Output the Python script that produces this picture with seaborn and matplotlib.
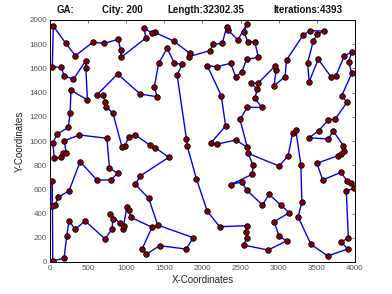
import matplotlib
matplotlib.use("Agg")
import matplotlib.pyplot as plt
import seaborn as sns
import pandas as pd

# Tour order of the 200 cities (x, y)
city_x = [36, 184, 220, 250, 329, 461, 724, 812, 825, 790, 921, 957, 965, 1009, 1030, 1062,
          1338, 1207, 1263, 1438, 1786, 1878, 1412, 1294, 1119, 1184, 1557, 1382, 1307, 1119,
          1030, 987, 944, 825, 737, 724, 694, 615, 886, 1184, 1404, 1369, 1425, 1536, 1632,
          1733, 1667, 1790, 1799, 1921, 2062, 2224, 2579, 2573, 2579, 2540, 2860, 3102, 3004,
          2939, 3136, 3027, 2873, 2786, 2579, 2514, 2369, 2654, 2662, 2597, 3004, 3123, 3181,
          3224, 3290, 3303, 3254, 3422, 3641, 3905, 3816, 3913, 3886, 3991, 3948, 3895, 3816,
          3576, 3501, 3773, 3816, 3860, 3847, 3715, 3649, 3399, 3523, 3649, 3741, 3895, 3826,
          3957, 3918, 3957, 3860, 3751, 3685, 3518, 3399, 3378, 3452, 3501, 3597, 3408, 3320,
          3102, 3083, 2939, 2965, 2952, 2728, 2632, 2720, 2685, 2777, 2588, 2491, 2588, 2435,
          2185, 2106, 2303, 2246, 2062, 2185, 2369, 2435, 2514, 2579, 2733, 2685, 2593, 2546,
          2579, 2465, 2333, 2316, 2259, 2141, 2092, 1820, 1833, 1623, 1373, 1342, 1233, 1257,
          934, 925, 895, 711, 562, 333, 207, 43, 30, 145, 188, 307, 470, 470, 491, 276, 263,
          241, 96, 36, 57, 141, 167, 211, 188, 386, 746, 780, 886, 799, 615, 395, 250, 109,
          66, 30, 30]
city_y = [8, 31, 217, 341, 270, 339, 190, 273, 353, 394, 320, 270, 298, 457, 430, 369,
          287, 107, 64, 135, 107, 201, 306, 526, 642, 711, 865, 945, 967, 1050,
          1035, 961, 953, 1229, 1283, 1325, 1380, 1380, 1554, 1388, 1366, 1449, 1642, 1766, 1642,
          1634, 1545, 1014, 959, 686, 421, 292, 300, 248, 198, 140, 99, 174, 215,
          333, 407, 471, 559, 471, 595, 661, 640, 725, 802, 898, 793, 878, 1064,
          1091, 802, 493, 374, 146, 50, 107, 168, 196, 587, 609, 650, 669, 741,
          678, 816, 878, 890, 920, 961, 1083, 1016, 1027, 1085, 1173, 1182, 1320, 1374,
          1559, 1655, 1733, 1705, 1540, 1531, 1675, 1490, 1642, 1826, 1882, 1909, 1911, 1876,
          1669, 1531, 1457, 1587, 1620, 1477, 1477, 1430, 1353, 1278, 1278, 1179, 948, 1008,
          973, 981, 1124, 1376, 1622, 1614, 1642, 1531, 1568, 1675, 1692, 1821, 1821, 1897,
          1963, 1835, 1917, 1940, 1807, 1799, 1746, 1697, 1725, 1826, 1898, 1890, 1934, 1851,
          1692, 1754, 1840, 1807, 1816, 1705, 1807, 1950, 1614, 1609, 1537, 1510, 1664, 1601, 1339, 1419, 1234,
          1113, 1058, 986, 857, 865, 898, 903, 1002, 1050, 1022, 779, 733, 678, 678, 829, 589, 535,
          471, 465, 669]

title_parts = ["GA:", "City: 200", "Length:32302.35", "Iterations:4393"]
x_label = "X-Coordinates"
y_label = "Y-Coordinates"
x_ticks = [0, 500, 1000, 1500, 2000, 2500, 3000, 3500, 4000]
y_ticks = [0, 200, 400, 600, 800, 1000, 1200, 1400, 1600, 1800, 2000]

sns.set_style("white")
plt.rcParams['font.family'] = ['Liberation Sans', 'DejaVu Sans']

n = len(city_x)
tour = pd.DataFrame({"x": city_x + [city_x[0]], "y": city_y + [city_y[0]],
                     "order": list(range(n + 1))})
cities = pd.DataFrame({"x": city_x, "y": city_y})

fig = plt.figure(figsize=(3.92, 2.94), dpi=100)
ax = fig.add_axes([50 / 392, 32 / 294, 305 / 392, 242 / 294])

sns.lineplot(data=tour, x="x", y="y", sort=False, estimator=None, color="#0000ff",
             linewidth=1.0, ax=ax, zorder=2)
sns.scatterplot(data=cities, x="x", y="y", s=16, color="#850000", edgecolor="black",
                linewidth=0.6, ax=ax, zorder=3)

ax.set_xlim(0, 4000)
ax.set_ylim(0, 2000)
ax.set_xticks(x_ticks)
ax.set_yticks(y_ticks)
ax.tick_params(direction="in", length=2.5, width=0.6, labelsize=5.8, colors="#555555",
               top=True, right=True, pad=2)
for sp in ax.spines.values():
    sp.set_color("black")
    sp.set_linewidth(0.7)
ax.set_xlabel(x_label, fontsize=7, color="#222222", labelpad=2)
ax.set_ylabel(y_label, fontsize=7, color="#222222", labelpad=3)

title_x = [65.5, 122, 206, 307.5]
for tx, t in zip(title_x, title_parts):
    fig.text(tx / 392, 1 - 10 / 294, t, ha="center", va="center", fontsize=7,
             fontweight="bold", color="#111111")

fig.savefig("out.png", dpi=100)
